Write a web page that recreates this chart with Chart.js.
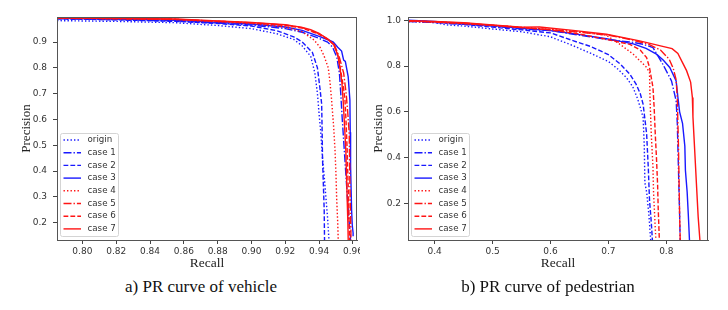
<!DOCTYPE html>
<html>
<head>
<meta charset="utf-8">
<script src="https://cdn.jsdelivr.net/npm/chart.js@4.4.0/dist/chart.umd.min.js"></script>
<style>
  body { margin: 0; background: #fff; width: 728px; height: 310px; position: relative; overflow: hidden; }
  canvas { position: absolute; top: 0; }
  #vehicleChart { left: 0; }
  #pedChart { left: 358px; }
  .cap { position: absolute; top: 277px; width: 300px; text-align: center;
         font-family: "Liberation Serif", "Times New Roman", serif; font-size: 17px; color: #111; }
</style>
</head>
<body>
<canvas id="vehicleChart" width="360" height="275"></canvas>
<canvas id="pedChart" width="370" height="275"></canvas>
<div class="cap" style="left:51px">a) PR curve of vehicle</div>
<div class="cap" style="left:398px">b) PR curve of pedestrian</div>

<script>
// series names (same in both panels)
const seriesLabels = ["origin", "case 1", "case 2", "case 3", "case 4", "case 5", "case 6", "case 7"];

// tick labels
const vehXTicks = [0.80, 0.82, 0.84, 0.86, 0.88, 0.90, 0.92, 0.94, 0.96];
const vehYTicks = [0.2, 0.3, 0.4, 0.5, 0.6, 0.7, 0.8, 0.9];
const pedXTicks = [0.4, 0.5, 0.6, 0.7, 0.8];
const pedYTicks = [0.2, 0.4, 0.6, 0.8, 1.0];

// a) vehicle: [recall, precision]
const vehOrigin = [[0.785,0.983],[0.82,0.98],[0.855,0.975],[0.88,0.964],[0.90,0.952],[0.915,0.932],[0.925,0.91],[0.93,0.885],[0.935,0.845],[0.9375,0.78],[0.939,0.70],[0.940,0.62],[0.941,0.55],[0.942,0.45],[0.943,0.38],[0.944,0.30],[0.945,0.22],[0.9458,0.133]];
const vehCase1 = [[0.785,0.99],[0.82,0.987],[0.855,0.982],[0.90,0.966],[0.92,0.952],[0.93,0.938],[0.94,0.914],[0.945,0.90],[0.948,0.88],[0.9505,0.84],[0.952,0.78],[0.9528,0.70],[0.9535,0.62],[0.9545,0.52],[0.9555,0.42],[0.9565,0.32],[0.9575,0.22],[0.9585,0.15],[0.9585,0.133]];
const vehCase2 = [[0.785,0.99],[0.82,0.986],[0.855,0.98],[0.88,0.972],[0.90,0.962],[0.915,0.944],[0.925,0.92],[0.93,0.90],[0.936,0.86],[0.939,0.80],[0.9405,0.72],[0.9415,0.66],[0.9418,0.55],[0.942,0.45],[0.9425,0.35],[0.943,0.25],[0.9432,0.133]];
const vehCase3 = [[0.785,0.992],[0.82,0.989],[0.855,0.984],[0.90,0.97],[0.92,0.958],[0.93,0.945],[0.94,0.922],[0.946,0.907],[0.9484,0.90],[0.951,0.88],[0.9533,0.865],[0.9545,0.83],[0.9555,0.825],[0.9572,0.765],[0.9582,0.675],[0.9584,0.55],[0.9586,0.42],[0.9592,0.25],[0.9596,0.19],[0.9601,0.16],[0.9601,0.148]];
const vehCase4 = [[0.785,0.992],[0.82,0.99],[0.855,0.987],[0.90,0.972],[0.92,0.958],[0.93,0.94],[0.937,0.908],[0.9405,0.88],[0.943,0.845],[0.9454,0.80],[0.9465,0.74],[0.9474,0.675],[0.9485,0.58],[0.9494,0.48],[0.950,0.38],[0.9504,0.29],[0.951,0.2],[0.9513,0.133]];
const vehCase5 = [[0.785,0.993],[0.82,0.991],[0.855,0.988],[0.90,0.975],[0.92,0.966],[0.93,0.956],[0.94,0.932],[0.945,0.912],[0.949,0.89],[0.952,0.84],[0.9545,0.78],[0.956,0.70],[0.957,0.62],[0.9578,0.546],[0.958,0.45],[0.9582,0.35],[0.9585,0.25],[0.9588,0.17],[0.9588,0.133]];
const vehCase6 = [[0.785,0.993],[0.82,0.991],[0.855,0.988],[0.90,0.974],[0.92,0.964],[0.93,0.954],[0.94,0.93],[0.946,0.906],[0.949,0.886],[0.9515,0.84],[0.953,0.78],[0.9545,0.72],[0.9553,0.675],[0.956,0.58],[0.9566,0.48],[0.957,0.38],[0.9575,0.28],[0.9578,0.18],[0.958,0.133]];
const vehCase7 = [[0.785,0.994],[0.82,0.992],[0.855,0.989],[0.88,0.982],[0.90,0.976],[0.92,0.967],[0.93,0.957],[0.935,0.948],[0.94,0.934],[0.945,0.912],[0.9484,0.893],[0.951,0.85],[0.9523,0.80],[0.9535,0.74],[0.9542,0.675],[0.955,0.58],[0.9558,0.48],[0.9562,0.38],[0.9566,0.29],[0.957,0.2],[0.9572,0.133]];

// b) pedestrian: [recall, precision]
const pedOrigin = [[0.355,0.995],[0.40,0.99],[0.42,0.98],[0.45,0.975],[0.50,0.962],[0.55,0.95],[0.60,0.928],[0.64,0.888],[0.67,0.855],[0.70,0.82],[0.715,0.79],[0.731,0.75],[0.742,0.71],[0.75,0.66],[0.755,0.62],[0.760,0.575],[0.762,0.45],[0.763,0.29],[0.766,0.25],[0.770,0.15],[0.773,0.04]];
const pedCase1 = [[0.355,0.995],[0.40,0.99],[0.45,0.982],[0.50,0.975],[0.55,0.962],[0.60,0.955],[0.65,0.935],[0.70,0.915],[0.74,0.905],[0.76,0.895],[0.777,0.881],[0.794,0.808],[0.809,0.735],[0.817,0.648],[0.819,0.55],[0.820,0.45],[0.821,0.35],[0.822,0.25],[0.823,0.15],[0.824,0.04]];
const pedCase2 = [[0.355,0.998],[0.40,0.993],[0.45,0.982],[0.50,0.97],[0.55,0.958],[0.60,0.945],[0.64,0.91],[0.67,0.885],[0.70,0.85],[0.72,0.81],[0.737,0.765],[0.748,0.72],[0.755,0.68],[0.760,0.633],[0.766,0.505],[0.769,0.35],[0.771,0.215],[0.774,0.12],[0.776,0.04]];
const pedCase3 = [[0.355,1.0],[0.40,0.995],[0.45,0.985],[0.50,0.977],[0.55,0.965],[0.60,0.955],[0.639,0.942],[0.6965,0.92],[0.743,0.897],[0.765,0.877],[0.783,0.852],[0.795,0.825],[0.806,0.794],[0.817,0.735],[0.82,0.663],[0.823,0.60],[0.828,0.55],[0.832,0.45],[0.833,0.345],[0.836,0.25],[0.838,0.15],[0.840,0.04]];
const pedCase4 = [[0.355,0.995],[0.40,0.992],[0.45,0.985],[0.50,0.978],[0.55,0.97],[0.60,0.96],[0.65,0.95],[0.6965,0.935],[0.72,0.895],[0.743,0.852],[0.766,0.794],[0.771,0.772],[0.772,0.65],[0.774,0.505],[0.777,0.36],[0.778,0.25],[0.78,0.142],[0.782,0.04]];
const pedCase5 = [[0.355,0.998],[0.40,0.993],[0.45,0.988],[0.50,0.978],[0.55,0.968],[0.60,0.96],[0.65,0.948],[0.70,0.935],[0.74,0.915],[0.77,0.895],[0.79,0.87],[0.805,0.83],[0.812,0.79],[0.817,0.74],[0.819,0.66],[0.82,0.55],[0.821,0.45],[0.822,0.3],[0.823,0.15],[0.824,0.04]];
const pedCase6 = [[0.355,0.997],[0.40,0.993],[0.45,0.986],[0.50,0.978],[0.55,0.968],[0.60,0.958],[0.65,0.94],[0.70,0.915],[0.737,0.895],[0.755,0.87],[0.766,0.837],[0.771,0.794],[0.777,0.706],[0.779,0.62],[0.781,0.5],[0.783,0.4],[0.785,0.28],[0.786,0.18],[0.788,0.04]];
const pedCase7 = [[0.355,0.998],[0.40,0.995],[0.45,0.99],[0.50,0.98],[0.55,0.97],[0.581,0.971],[0.639,0.956],[0.6965,0.939],[0.754,0.91],[0.79,0.888],[0.81,0.876],[0.82,0.855],[0.828,0.815],[0.835,0.78],[0.842,0.73],[0.845,0.663],[0.846,0.578],[0.849,0.433],[0.852,0.287],[0.855,0.142],[0.858,0.04]];

const vehSeries = [vehOrigin, vehCase1, vehCase2, vehCase3, vehCase4, vehCase5, vehCase6, vehCase7];
const pedSeries = [pedOrigin, pedCase1, pedCase2, pedCase3, pedCase4, pedCase5, pedCase6, pedCase7];

// line styles like matplotlib ':', '-.', '--', '-'
const BLUE = "rgb(25,25,255)";
const RED = "rgb(255,20,20)";
const DOT = [1.4, 2.1], DASHDOT = [8, 2, 1.4, 2], DASH = [4.8, 2.1], SOLID = [];
const lineColors = [BLUE, BLUE, BLUE, BLUE, RED, RED, RED, RED];
const lineDashes = [DOT, DASHDOT, DASH, SOLID, DOT, DASHDOT, DASH, SOLID];

const tickFont = { family: "'DejaVu Sans', sans-serif", size: 9 };
const titleFont = { family: "'Liberation Serif', 'Times New Roman', serif", size: 13 };

// frame on all four sides + matplotlib style legend in lower left
const frameLegend = {
  id: "frameLegend",
  afterDatasetsDraw(chart) {
    const { ctx, chartArea: a } = chart;
    ctx.save();
    ctx.strokeStyle = "#555";
    ctx.lineWidth = 1;
    ctx.strokeRect(a.left + 0.5, a.top + 0.5, a.right - a.left - 1, a.bottom - a.top);

    const bx = a.left + 3.5, bw = 58, bh = 103;
    const by = a.bottom - 3.5 - bh;
    ctx.beginPath();
    if (ctx.roundRect) ctx.roundRect(bx, by, bw, bh, 2); else ctx.rect(bx, by, bw, bh);
    ctx.fillStyle = "rgba(255,255,255,0.85)";
    ctx.fill();
    ctx.strokeStyle = "#d4d4d4";
    ctx.stroke();

    ctx.font = "8.7px 'DejaVu Sans', sans-serif";
    ctx.textBaseline = "middle";
    chart.data.datasets.forEach((ds, i) => {
      const y = by + 6.5 + i * 12.7;
      ctx.beginPath();
      ctx.setLineDash(ds.borderDash);
      ctx.strokeStyle = ds.borderColor;
      ctx.lineWidth = ds.borderWidth;
      ctx.moveTo(bx + 3, y);
      ctx.lineTo(bx + 20.5, y);
      ctx.stroke();
      ctx.setLineDash([]);
      ctx.fillStyle = "#333";
      ctx.fillText(ds.label, bx + 27, y);
    });
    ctx.restore();
  }
};

function makeChart(id, series, cfg) {
  const datasets = series.map((pts, i) => ({
    label: seriesLabels[i],
    data: pts.map(p => ({ x: p[0], y: p[1] })),
    borderColor: lineColors[i],
    borderDash: lineDashes[i],
    borderWidth: 1.4,
    pointRadius: 0,
    tension: 0,
    fill: false,
    order: 7 - i
  }));

  return new Chart(document.getElementById(id), {
    type: "line",
    data: { datasets },
    options: {
      responsive: false,
      animation: false,
      devicePixelRatio: 1,
      layout: { padding: { top: 17, right: cfg.padRight, left: 0, bottom: 0 } },
      plugins: { legend: { display: false }, tooltip: { enabled: false } },
      scales: {
        x: {
          type: "linear",
          min: cfg.xMin, max: cfg.xMax,
          afterBuildTicks: s => { s.ticks = cfg.xTicks.map(v => ({ value: v })); },
          afterFit: s => { s.height = 35; s.paddingLeft = 0; s.paddingRight = 0; },
          ticks: { font: tickFont, color: "#333", padding: 2, maxRotation: 0, autoSkip: false,
                   callback: v => v.toFixed(cfg.xDec) },
          grid: { drawOnChartArea: false, drawTicks: true, tickLength: 4, color: "#444" },
          border: { display: true, color: "#555" },
          title: { display: true, text: "Recall", color: "#222",
                   font: { family: titleFont.family, size: 13.5 }, padding: { top: 0, bottom: 3.5 } }
        },
        y: {
          min: cfg.yMin, max: cfg.yMax,
          afterBuildTicks: s => { s.ticks = cfg.yTicks.map(v => ({ value: v })); },
          afterFit: s => { s.width = cfg.yWidth; s.paddingTop = 0; s.paddingBottom = 0; },
          ticks: { font: tickFont, color: "#333", padding: cfg.yTickPad, autoSkip: false,
                   callback: v => v.toFixed(1) },
          grid: { drawOnChartArea: false, drawTicks: true, tickLength: 4, color: "#444" },
          border: { display: true, color: "#555" },
          title: { display: true, text: "Precision", color: "#222",
                   font: titleFont, padding: { top: cfg.yTitlePad, bottom: 0 } }
        }
      }
    },
    plugins: [frameLegend]
  });
}

makeChart("vehicleChart", vehSeries, {
  xMin: 0.785, xMax: 0.9624, yMin: 0.133, yMax: 0.997,
  xTicks: vehXTicks, yTicks: vehYTicks, xDec: 2,
  yWidth: 57, yTickPad: 6, yTitlePad: 19.2, padRight: 3
});

makeChart("pedChart", pedSeries, {
  xMin: 0.354, xMax: 0.872, yMin: 0.04, yMax: 1.0144,
  xTicks: pedXTicks, yTicks: pedYTicks, xDec: 1,
  yWidth: 50, yTickPad: 3, yTitlePad: 12.5, padRight: 20
});
</script>
</body>
</html>
